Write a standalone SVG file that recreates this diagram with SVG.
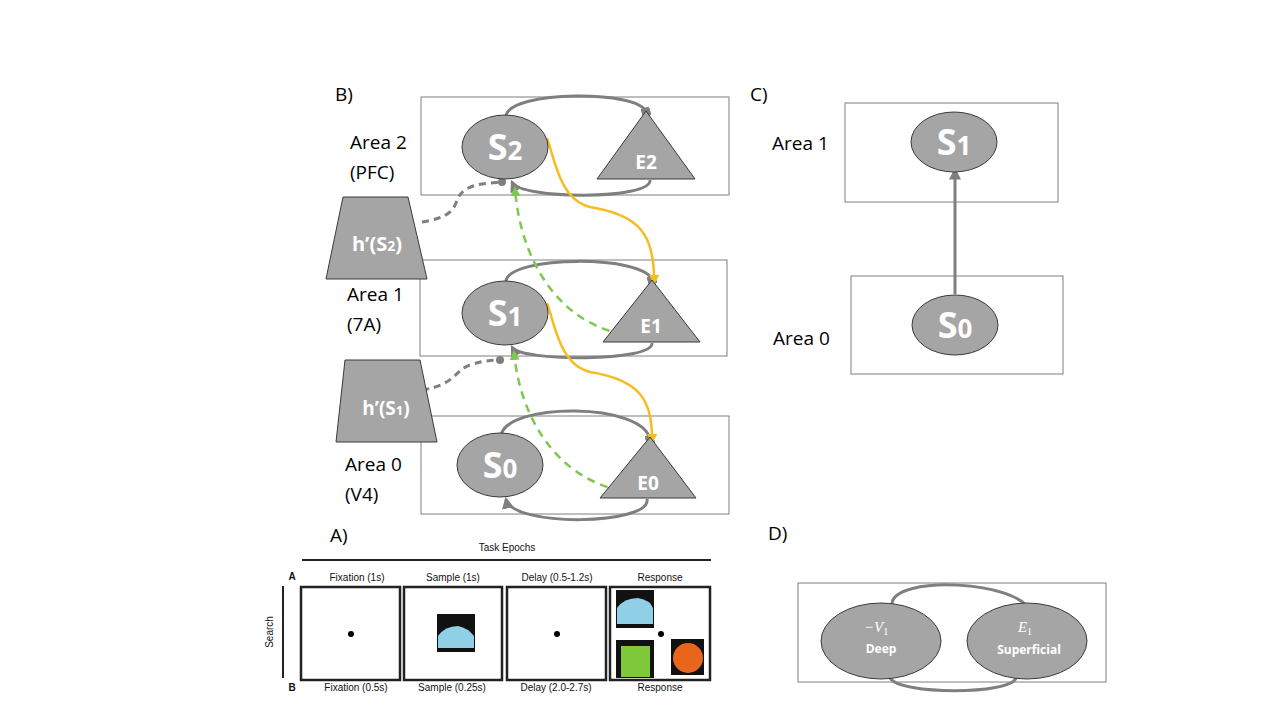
<svg xmlns="http://www.w3.org/2000/svg" width="1280" height="720" viewBox="0 0 1280 720">
<style>
.box{fill:none;stroke:#7f7f7f;stroke-width:1}
.node{fill:#a6a5a5;stroke:#3a3a3a;stroke-width:1}
.big{font-family:"Open Sans","Liberation Sans",sans-serif;fill:#fff;font-weight:bold}
.lbl{font-family:"Open Sans","Liberation Sans",sans-serif;font-size:19px;fill:#000}
.sm{font-family:"Liberation Sans",Arial,sans-serif;font-size:10px;fill:#111}
.loop{fill:none;stroke:#7f7f7f;stroke-width:3}
.yel{fill:none;stroke:#f5bd1f;stroke-width:2.5}
.grn{fill:none;stroke:#7ec850;stroke-width:2.5;stroke-dasharray:8 6}
.gd{fill:none;stroke:#7f7f7f;stroke-width:3;stroke-dasharray:7 5}
.panel{fill:#fff;stroke:#222;stroke-width:2.5}
</style>
<defs>
<marker id="ag" viewBox="0 0 10 10" refX="8" refY="5" markerWidth="4" markerHeight="4" orient="auto"><path d="M0,0L10,5L0,10z" fill="#7f7f7f"/></marker>
<marker id="ay" viewBox="0 0 10 10" refX="8" refY="5" markerWidth="4" markerHeight="4" orient="auto"><path d="M0,0L10,5L0,10z" fill="#f5bd1f"/></marker>
<marker id="agr" viewBox="0 0 10 10" refX="8" refY="5" markerWidth="4" markerHeight="4" orient="auto"><path d="M0,0L10,5L0,10z" fill="#7ec850"/></marker>
<marker id="sq" viewBox="0 0 10 10" refX="5" refY="5" markerWidth="3" markerHeight="3" orient="auto"><rect width="10" height="10" fill="#7f7f7f"/></marker>
</defs>
<rect width="1280" height="720" fill="#fff"/>

<g id="labels">
<text class="lbl" x="335" y="101">B)</text>
<text class="lbl" x="350" y="149">Area 2</text>
<text class="lbl" x="350" y="179">(PFC)</text>
<text class="lbl" x="347" y="301">Area 1</text>
<text class="lbl" x="347" y="331">(7A)</text>
<text class="lbl" x="345" y="471">Area 0</text>
<text class="lbl" x="345" y="501">(V4)</text>
<text class="lbl" x="750" y="101">C)</text>
<text class="lbl" x="772" y="150">Area 1</text>
<text class="lbl" x="773" y="345">Area 0</text>
<text class="lbl" x="330" y="542">A)</text>
<text class="lbl" x="768" y="540">D)</text>
</g>

<g id="boxes">
<rect class="box" x="421" y="97" width="308" height="98"/>
<rect class="box" x="420" y="260" width="307" height="96"/>
<rect class="box" x="421" y="416" width="308" height="98"/>
<rect class="box" x="845" y="103" width="213" height="99"/>
<rect class="box" x="851" y="276" width="212" height="98"/>
<rect class="box" x="798" y="583" width="308" height="99"/>
</g>

<g id="connectors">
<path class="loop" d="M506,116 C510,90 640,90 646,112" marker-end="url(#sq)"/>
<path class="loop" d="M650,180 C652,200 520,200 512,182" marker-end="url(#ag)"/>
<path class="loop" d="M506,281 C510,255 645,255 652,280" marker-end="url(#sq)"/>
<path class="loop" d="M652,343 C654,362 520,362 512,347" marker-end="url(#ag)"/>
<path class="loop" d="M501,436 C505,402 645,402 650,440" marker-end="url(#sq)"/>
<path class="loop" d="M647,499 C652,525 512,528 506,499" marker-end="url(#ag)"/>
<path class="yel" d="M547,138 C555,160 560,200 590,207 C640,215 655,235 654,283" marker-end="url(#ay)"/>
<path class="yel" d="M547,303 C555,325 560,365 590,372 C640,380 653,400 652,442" marker-end="url(#ay)"/>
<path class="grn" d="M637,336 C560,330 520,260 515,188" marker-end="url(#agr)"/>
<path class="grn" d="M635,493 C560,485 520,420 514,352" marker-end="url(#agr)"/>
<path class="gd" d="M422,222 C465,215 450,200 465,190 C475,183 492,183 502,182"/>
<circle cx="502" cy="182" r="4" fill="#7f7f7f"/>
<path class="gd" d="M422,390 C455,385 455,370 470,365 C485,360 495,360 500,360"/>
<circle cx="500" cy="360" r="4" fill="#7f7f7f"/>
<path fill="none" stroke="#7f7f7f" stroke-width="3" d="M955,294 L955,170" marker-end="url(#ag)"/>
<path class="loop" d="M892,604 C893,575 1020,580 1030,612" marker-end="url(#sq)"/>
<path class="loop" d="M890,678 C900,695 1010,695 1016,678"/>
</g>

<g id="S2"><ellipse class="node" cx="505" cy="147" rx="43" ry="32"/><text class="big" x="505" y="160" font-size="36" text-anchor="middle">S<tspan font-size="26">2</tspan></text></g>
<g id="E2"><path class="node" d="M646,111 L695,179 L597,179Z"/><text class="big" x="646" y="169" font-size="19" text-anchor="middle">E2</text></g>
<g id="S1"><ellipse class="node" cx="505" cy="313" rx="43" ry="32"/><text class="big" x="505" y="326" font-size="36" text-anchor="middle">S<tspan font-size="26">1</tspan></text></g>
<g id="E1"><path class="node" d="M652,280 L700,342 L603,342Z"/><text class="big" x="651" y="333" font-size="19" text-anchor="middle">E1</text></g>
<g id="S0"><ellipse class="node" cx="500" cy="465" rx="43" ry="32"/><text class="big" x="500" y="478" font-size="36" text-anchor="middle">S<tspan font-size="26">0</tspan></text></g>
<g id="E0"><path class="node" d="M650,437 L696,498 L600,498Z"/><text class="big" x="648" y="490" font-size="19" text-anchor="middle">E0</text></g>
<g id="hS2"><path class="node" d="M343,197 L408,197 L427,279 L326,279Z"/><text class="big" x="377" y="251" font-size="20" text-anchor="middle">h’(S<tspan font-size="14">2</tspan>)</text></g>
<g id="hS1"><path class="node" d="M345,360 L420,360 L437,442 L336,442Z"/><text class="big" x="386" y="415" font-size="19" text-anchor="middle">h’(S<tspan font-size="13">1</tspan>)</text></g>

<g id="C_S1"><ellipse class="node" cx="954" cy="142" rx="43" ry="30"/><text class="big" x="954" y="155" font-size="36" text-anchor="middle">S<tspan font-size="26">1</tspan></text></g>
<g id="C_S0"><ellipse class="node" cx="955" cy="325" rx="43" ry="30"/><text class="big" x="955" y="338" font-size="36" text-anchor="middle">S<tspan font-size="26">0</tspan></text></g>

<g id="Deep"><ellipse class="node" cx="881" cy="641" rx="60" ry="38"/><text x="876" y="632" font-family="Liberation Serif,serif" font-style="italic" font-size="15" fill="#fff" text-anchor="middle">−V<tspan font-size="10" font-style="normal" dy="3">1</tspan></text><text class="big" x="881" y="653" font-size="12" text-anchor="middle">Deep</text></g>
<g id="Superficial"><ellipse class="node" cx="1027" cy="641" rx="60" ry="38"/><text x="1025" y="632" font-family="Liberation Serif,serif" font-style="italic" font-size="15" fill="#fff" text-anchor="middle">E<tspan font-size="10" font-style="normal" dy="3">1</tspan></text><text class="big" x="1029" y="654" font-size="12" text-anchor="middle">Superficial</text></g>

<g id="taskA">
<text class="sm" x="507" y="551" font-size="11" text-anchor="middle">Task Epochs</text>
<line x1="302" y1="560" x2="711" y2="560" stroke="#222" stroke-width="2"/>
<text class="sm" x="292" y="580" font-size="9" font-weight="bold" text-anchor="middle">A</text>
<text class="sm" x="292" y="691" font-size="9" font-weight="bold" text-anchor="middle">B</text>
<line x1="283" y1="586" x2="283" y2="678" stroke="#222" stroke-width="2"/>
<text class="sm" x="273" y="632" font-size="11" text-anchor="middle" transform="rotate(-90 273 632)">Search</text>
<text class="sm" x="357" y="581" text-anchor="middle">Fixation (1s)</text>
<text class="sm" x="453" y="581" text-anchor="middle">Sample (1s)</text>
<text class="sm" x="557" y="581" text-anchor="middle">Delay (0.5-1.2s)</text>
<text class="sm" x="660" y="581" text-anchor="middle">Response</text>
<text class="sm" x="356" y="691" text-anchor="middle">Fixation (0.5s)</text>
<text class="sm" x="452" y="691" text-anchor="middle">Sample (0.25s)</text>
<text class="sm" x="556" y="691" text-anchor="middle">Delay (2.0-2.7s)</text>
<text class="sm" x="660" y="691" text-anchor="middle">Response</text>
<rect class="panel" x="301" y="587" width="99" height="93"/>
<rect class="panel" x="404" y="587" width="98" height="93"/>
<rect class="panel" x="507" y="587" width="99" height="93"/>
<rect class="panel" x="610" y="587" width="100" height="93"/>
<circle cx="351" cy="634" r="3" fill="#000"/>
<circle cx="557" cy="634" r="3" fill="#000"/>
<circle cx="661" cy="634" r="3" fill="#000"/>
<rect x="437" y="614" width="38" height="38" fill="#111"/>
<path d="M438,648 L438,636 Q445,626 458,626 Q468,628 474,636 L474,648Z" fill="#8fd0e6"/>
<rect x="616" y="590" width="38" height="38" fill="#111"/>
<path d="M617,624 L617,608 Q624,598 638,598 Q650,600 653,608 L653,624Z" fill="#8fd0e6"/>
<rect x="616" y="640" width="38" height="38" fill="#111"/>
<rect x="621" y="646" width="29" height="31" fill="#7ec83a"/>
<rect x="671" y="639" width="33" height="36" fill="#111"/>
<circle cx="688" cy="658" r="15" fill="#e8661c"/>
</g>
</svg>
